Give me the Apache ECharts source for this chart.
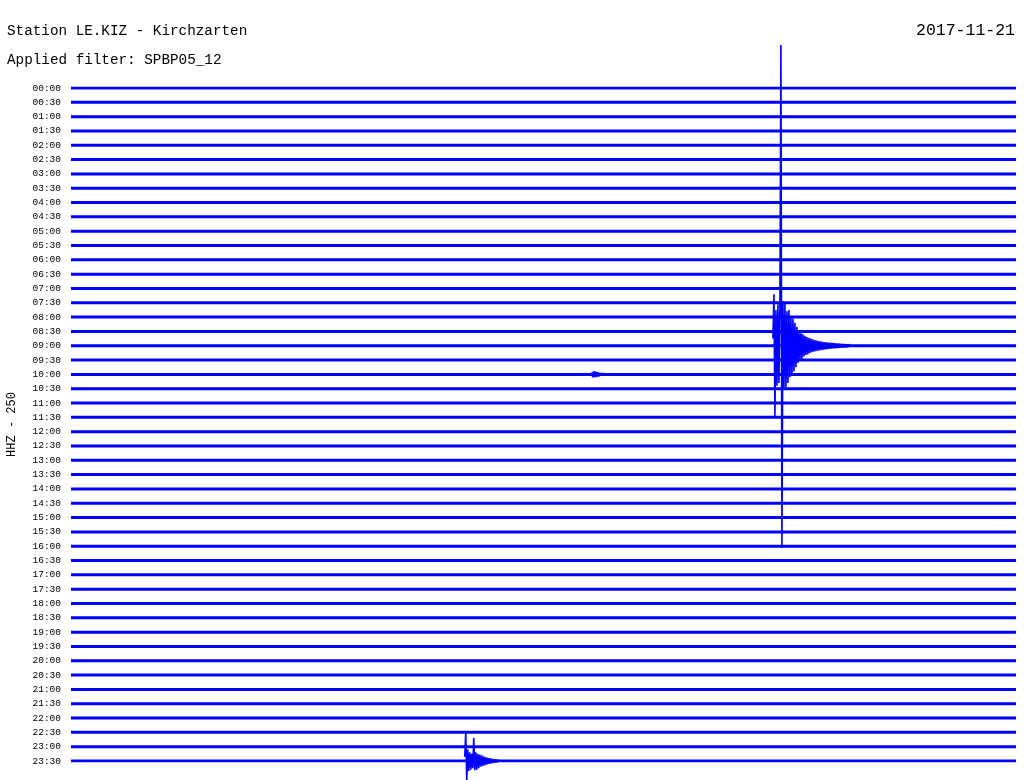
<!DOCTYPE html>
<html>
<head>
<meta charset="utf-8">
<script src="https://cdn.jsdelivr.net/npm/echarts@6/dist/echarts.min.js"></script>
<style>html,body{margin:0;padding:0;background:#fff}#c{width:1024px;height:780px}</style>
</head>
<body>
<div id="c"></div>
<script>
// ---- data ----
const stationTitle = 'Station LE.KIZ - Kirchzarten';
const filterTitle = 'Applied filter: SPBP05_12';
const dateTitle = '2017-11-21';
const axisName = 'HHZ - 250';
const timeLabels = ['00:00','00:30','01:00','01:30','02:00','02:30','03:00','03:30','04:00','04:30',
  '05:00','05:30','06:00','06:30','07:00','07:30','08:00','08:30','09:00','09:30',
  '10:00','10:30','11:00','11:30','12:00','12:30','13:00','13:30','14:00','14:30',
  '15:00','15:30','16:00','16:30','17:00','17:30','18:00','18:30','19:00','19:30',
  '20:00','20:30','21:00','21:30','22:00','22:30','23:00','23:30'];
const rowSeconds = 1800;       // each trace covers 30 minutes
const sampleStep = 1.905;      // seconds between event samples
// event on the 09:00 trace (amplitude in trace-spacing units, positive = up)
const eventARow = 18;
const eventAStart = 1337;
const eventASamples = [0.5, 3.6, -4.9, 2.5, -2.8, 2.9, -2.6, 2.7, 21.0, -14.1,
  3.1, -3.0, 3.0, -2.9, 2.4, -2.6, 2.5, -2.2, 2.0, -2.1,
  1.9, -1.8, 1.6, -1.5, 1.3, -1.2, 1.1, -1.0, 0.95, -0.9,
  0.8, -0.75, 0.7, -0.65, 0.6, -0.6, 0.55, -0.5, 0.5, -0.45,
  0.45, -0.42, 0.4, -0.38, 0.36, -0.35, 0.33, -0.32, 0.3, -0.3,
  0.28, -0.27, 0.26, -0.25, 0.24, -0.23, 0.22, -0.22, 0.21, -0.2,
  0.2, -0.19, 0.18, -0.18, 0.17, -0.16, 0.16, -0.15, 0.15, -0.14,
  0.13, -0.13, 0.12, -0.12, 0.11, -0.1, 0.1, 0];
// event on the 23:30 trace
const eventBRow = 47;
const eventBStart = 750;
const eventBSamples = [0.3, 2.0, -1.4, 0.8, -0.7, 0.6, -0.6, 0.5, -0.5, 1.6, -0.65,
  0.6, -0.6, 0.5, -0.5, 0.45, -0.4, 0.4, -0.35,
  0.3, -0.3, 0.28, -0.25, 0.22, -0.2, 0.2, -0.18, 0.16, -0.15,
  0.13, -0.12, 0.1, -0.1, 0.08, 0];
// small burst on the 10:00 trace
const eventCRow = 20;
const eventCStart = 992;
const eventCSamples = [0.15, -0.2, 0.22, -0.2, 0.2, -0.18, 0.15, -0.15, 0.12, -0.1, 0.1, 0];

// ---- build ----
const blue = '#0000ff';
const series = [];
timeLabels.forEach((lab, i) => {
  series.push({
    type: 'line', silent: true, symbol: 'none', animation: false,
    lineStyle: { color: blue, width: 3 },
    data: [[0, i], [rowSeconds, i]]
  });
});
function eventSeries(row, start, samples) {
  return {
    type: 'line', silent: true, symbol: 'none', animation: false, clip: false,
    lineStyle: { color: blue, width: 1.6 },
    data: samples.map((a, k) => [start + k * sampleStep, row - a])
  };
}
series.push(eventSeries(eventARow, eventAStart, eventASamples));
series.push(eventSeries(eventBRow, eventBStart, eventBSamples));
series.push(eventSeries(eventCRow, eventCStart, eventCSamples));

const font = '"Liberation Mono", monospace';
const chart = echarts.init(document.getElementById('c'), null, { renderer: 'canvas' });
chart.setOption({
  backgroundColor: '#fff',
  animation: false,
  title: [
    { text: stationTitle, left: 7, top: 24, padding: 0, textStyle: { fontFamily: font, fontSize: 14.3, fontWeight: 'normal', color: '#000' } },
    { text: filterTitle, left: 7, top: 53, padding: 0, textStyle: { fontFamily: font, fontSize: 14.3, fontWeight: 'normal', color: '#000' } },
    { text: dateTitle, right: 9, top: 22, padding: 0, textStyle: { fontFamily: font, fontSize: 16.5, fontWeight: 'normal', color: '#000' } }
  ],
  grid: { left: 71, right: 8, top: 88, bottom: 19, containLabel: false, outerBoundsMode: 'none' },
  xAxis: { type: 'value', min: 0, max: rowSeconds, show: false },
  yAxis: {
    type: 'value', inverse: true, min: 0, max: timeLabels.length - 1, interval: 1,
    name: axisName, nameLocation: 'middle', nameRotate: 90, nameGap: 53,
    nameTextStyle: { fontFamily: font, fontSize: 12, color: '#000' },
    axisLine: { show: false }, axisTick: { show: false }, splitLine: { show: false },
    axisLabel: {
      margin: 10, fontFamily: font, fontSize: 9.5, color: '#000',
      formatter: v => timeLabels[v] || ''
    }
  },
  series: series
});
</script>
</body>
</html>
